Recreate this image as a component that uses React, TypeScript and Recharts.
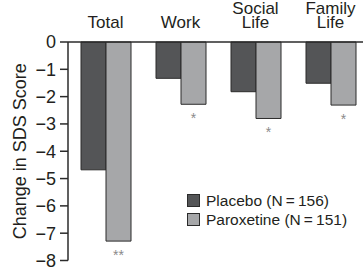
import React from 'react';
import { BarChart, Bar, XAxis, YAxis, Legend, LabelList } from 'recharts';

const categories = ['Total', 'Work', 'Social\nLife', 'Family\nLife'];
const placebo = [-4.68, -1.33, -1.82, -1.51];
const paroxetine = [-7.29, -2.28, -2.8, -2.31];
const significance = ['**', '*', '*', '*'];
const yTicks = [0, -1, -2, -3, -4, -5, -6, -7, -8];
const legendLabels = ['Placebo (N\u2009=\u2009156)', 'Paroxetine (N\u2009=\u2009151)'];

const data = categories.map((c, i) => ({
  name: c,
  placebo: placebo[i],
  paroxetine: paroxetine[i],
  sig: significance[i],
}));

const FONT = '"Liberation Sans", Arial, sans-serif';
const TEXT = '#231f20';
const C_PLACEBO = '#545557';
const C_PAROX = '#a6a7a9';
const C_STROKE = '#2b2b2b';

const CatTick = (props: any) => {
  const { x, y, payload } = props;
  const lines = String(payload.value).split('\n');
  const lh = 14;
  return (
    <g>
      {lines.map((l, i) => (
        <text
          key={i}
          x={x}
          y={y - 6 - (lines.length - 1 - i) * lh}
          textAnchor="middle"
          fontFamily={FONT}
          fontSize={17}
          fill={TEXT}
        >
          {l}
        </text>
      ))}
    </g>
  );
};

const SigLabel = (props: any) => {
  const { x, y, width, height, value } = props;
  const bottom = Math.max(y, y + height);
  return (
    <text
      x={x + width / 2}
      y={bottom + 19}
      textAnchor="middle"
      fontFamily={FONT}
      fontSize={14}
      fill="#8a8a8a"
    >
      {value}
    </text>
  );
};

const YLabel = (props: any) => {
  const vb = props.viewBox || {};
  const cx = 20;
  const cy = (vb.y || 0) + (vb.height || 0) / 2;
  return (
    <text
      x={cx}
      y={cy}
      transform={`rotate(-90 ${cx} ${cy})`}
      textAnchor="middle"
      dominantBaseline="central"
      fontFamily={FONT}
      fontSize={18}
      fill={TEXT}
    >
      Change in SDS Score
    </text>
  );
};

const LegendContent = () => {
  const colors = [C_PLACEBO, C_PAROX];
  return (
    <div style={{ fontFamily: FONT, fontSize: 15.5, color: TEXT, textAlign: 'left' }}>
      {legendLabels.map((l, i) => (
        <div key={i} style={{ display: 'flex', alignItems: 'center', height: 19 }}>
          <span
            style={{
              display: 'inline-block',
              width: 11,
              height: 11,
              background: colors[i],
              border: `1px solid ${C_STROKE}`,
              marginRight: 6,
            }}
          />
          <span>{l}</span>
        </div>
      ))}
    </div>
  );
};

export default function App() {
  return (
    <div style={{ position: 'absolute', left: 0, top: 0, width: 363, height: 276, overflow: 'hidden', background: '#fff' }}>
      <BarChart
        width={368}
        height={276}
        data={data}
        margin={{ top: 0, right: 0, bottom: 15.5, left: 0 }}
        barSize={25}
        barGap={0}
      >
        <XAxis
          dataKey="name"
          orientation="top"
          height={42}
          tickLine={false}
          axisLine={{ stroke: C_STROKE, strokeWidth: 1.5 }}
          tick={<CatTick />}
          interval={0}
        />
        <YAxis
          width={68}
          domain={[-8, 0]}
          ticks={yTicks}
          interval={0}
          tickSize={8}
          tickMargin={4}
          axisLine={{ stroke: C_STROKE, strokeWidth: 1.5 }}
          tickLine={{ stroke: C_STROKE, strokeWidth: 1.5 }}
          tick={{ fontFamily: FONT, fontSize: 18, fill: TEXT }}
          tickFormatter={(v: number) => String(v).replace('-', '\u2212')}
          label={<YLabel />}
        />
        <Legend
          verticalAlign="middle"
          align="center"
          layout="horizontal"
          content={<LegendContent />}
          wrapperStyle={{ position: 'absolute', left: 187, top: 191, width: 172, height: 40 }}
        />
        <Bar dataKey="placebo" fill={C_PLACEBO} stroke={C_STROKE} strokeWidth={1} isAnimationActive={false} />
        <Bar dataKey="paroxetine" fill={C_PAROX} stroke={C_STROKE} strokeWidth={1} isAnimationActive={false}>
          <LabelList dataKey="sig" content={<SigLabel />} />
        </Bar>
      </BarChart>
    </div>
  );
}
